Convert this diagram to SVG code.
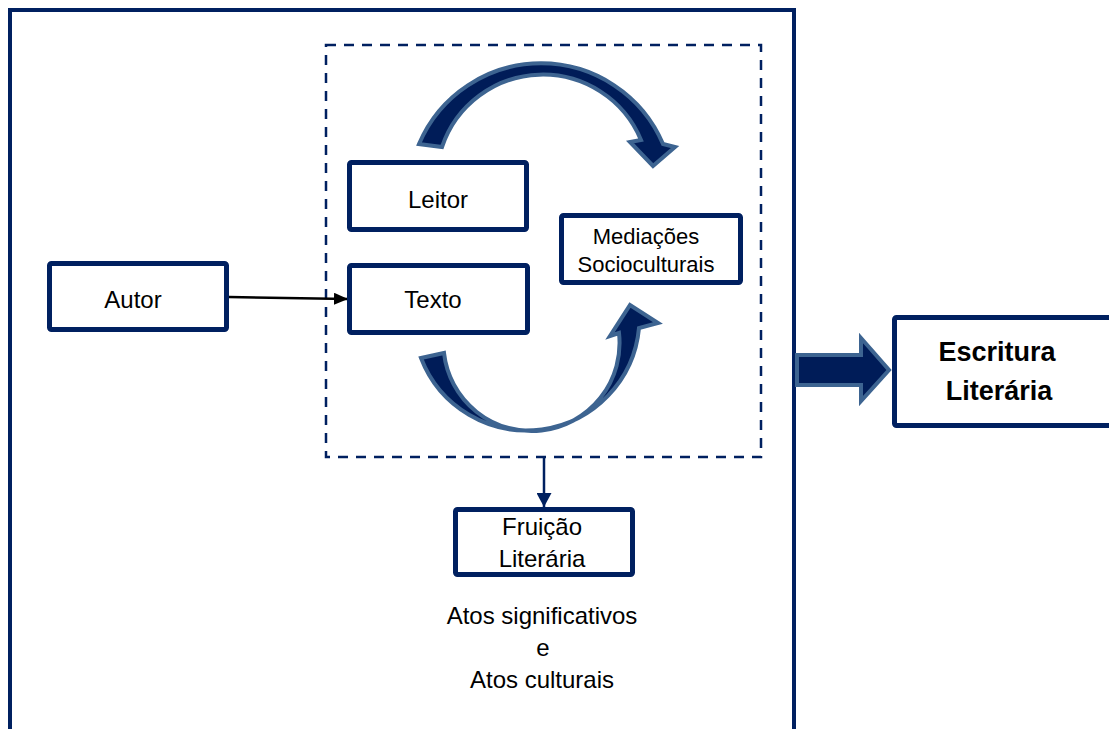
<svg xmlns="http://www.w3.org/2000/svg" width="1109" height="729" viewBox="0 0 1109 729">
  <style>
    .box { fill: #ffffff; stroke: #002060; stroke-width: 5; stroke-linejoin: round; }
    .lbl { font-family: "Liberation Sans", Arial, sans-serif; font-size: 24px; fill: #000000; text-anchor: middle; }
    .small { font-size: 22px; }
    .bold { font-weight: bold; font-size: 27px; }
    .big-arrow { fill: #001c58; stroke: #3d6491; stroke-width: 4; stroke-linejoin: miter; }
  </style>
  <defs>
    <marker id="headBlack" markerWidth="14" markerHeight="12" refX="14" refY="6" orient="auto" markerUnits="userSpaceOnUse">
      <path d="M0,0 L14,6 L0,12 Z" fill="#000000"/>
    </marker>
    <marker id="headNavy" markerWidth="14" markerHeight="15" refX="14" refY="7.5" orient="auto" markerUnits="userSpaceOnUse">
      <path d="M0,0 L14,7.5 L0,15 Z" fill="#002060"/>
    </marker>
  </defs>
  <rect width="1109" height="729" fill="#ffffff"/>

  <!-- outer frame -->
  <rect id="frame" x="10" y="10" width="784" height="740" fill="none" stroke="#002060" stroke-width="4"/>

  <!-- dashed group -->
  <rect id="dashed" x="326" y="45" width="435" height="412" fill="none" stroke="#002060" stroke-width="2.5" stroke-dasharray="10,8"/>

  <g id="connectors">
    <line x1="229" y1="297" x2="348" y2="299" stroke="#000000" stroke-width="2.5" marker-end="url(#headBlack)"/>
    <line x1="544" y1="457" x2="544" y2="507" stroke="#002060" stroke-width="2.5" marker-end="url(#headNavy)"/>
    <!-- top curved arrow -->
    <path class="big-arrow" d="M419,144 A132.6,132.6 0 0 1 663,144 L675,147 L653,166 L630,142 L641,140 A106.4,106.4 0 0 0 442,147 Z"/>
    <!-- bottom curved arrow -->
    <path class="big-arrow" d="M421,358 A113,113 0 0 0 639,328 L658,323 L630,305 L610,336 L619,333 A87.1,87.1 0 0 1 444,353 Z"/>
    <!-- block arrow to Escritura -->
    <path class="big-arrow" d="M797,355 L861,355 L861,338 L889,370 L861,401 L861,385 L797,385 Z"/>
  </g>

  <g id="node-leitor">
    <rect class="box" x="349.5" y="162.5" width="177" height="67" rx="2"/>
    <text class="lbl" x="438" y="208">Leitor</text>
  </g>

  <g id="node-mediacoes">
    <rect class="box" x="561.5" y="215.5" width="179" height="67" rx="2"/>
    <text class="lbl small" x="646" y="244">Mediações</text>
    <text class="lbl small" x="646" y="272">Socioculturais</text>
  </g>

  <g id="node-autor">
    <rect class="box" x="49.5" y="263.5" width="177" height="66" rx="2"/>
    <text class="lbl" x="133" y="308">Autor</text>
  </g>

  <g id="node-texto">
    <rect class="box" x="349.5" y="265.5" width="178" height="67" rx="2"/>
    <text class="lbl" x="433" y="308">Texto</text>
  </g>

  <g id="node-fruicao">
    <rect class="box" x="455.5" y="509.5" width="177" height="65" rx="2"/>
    <text class="lbl" x="542" y="535">Fruição</text>
    <text class="lbl" x="542" y="567">Literária</text>
  </g>

  <g id="node-escritura">
    <rect class="box" x="894.5" y="317.5" width="230" height="108" rx="2"/>
    <text class="lbl bold" x="997" y="361">Escritura</text>
    <text class="lbl bold" x="999" y="400">Literária</text>
  </g>

  <g id="caption">
    <text class="lbl" x="542" y="624">Atos significativos</text>
    <text class="lbl" x="543" y="656">e</text>
    <text class="lbl" x="542" y="688">Atos culturais</text>
  </g>
</svg>
